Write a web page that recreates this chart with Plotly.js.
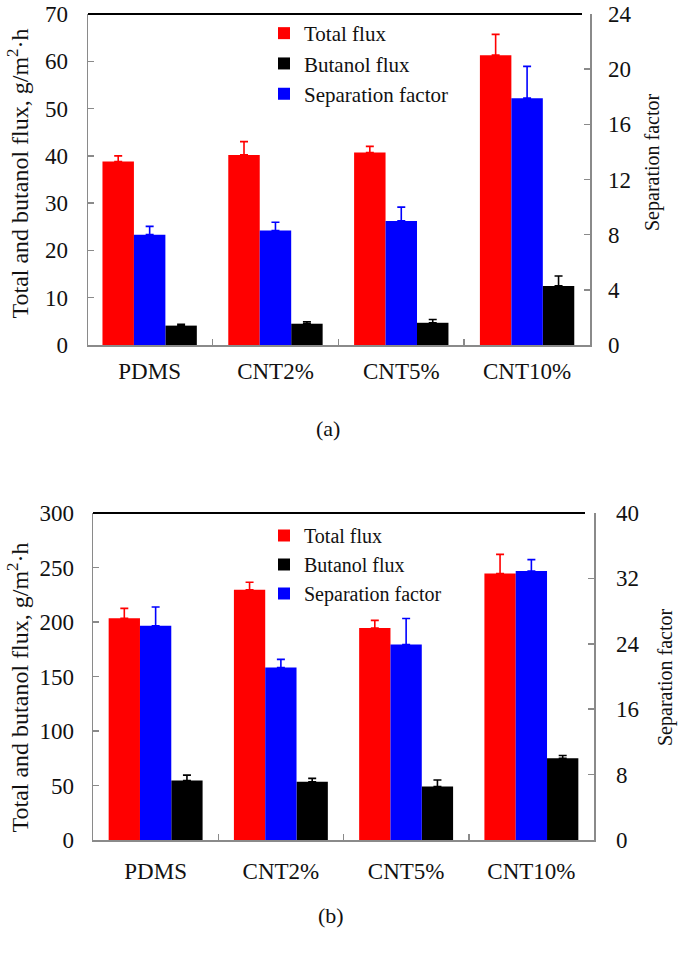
<!DOCTYPE html>
<html>
<head>
<meta charset="utf-8">
<script src="https://cdn.plot.ly/plotly-3.0.1.min.js"></script>
<style>html,body{margin:0;padding:0;background:#fff;}#chart{width:685px;height:959px;}</style>
</head>
<body>
<div id="chart"></div>
<script>
// ---- data ----
const categories = ['PDMS', 'CNT2%', 'CNT5%', 'CNT10%'];

// panel (a)
const aTotalFlux = [38.8, 40.2, 40.7, 61.3];
const aTotalFluxErr = [1.2, 2.8, 1.3, 4.4];
const aButanolFlux = [4.1, 4.5, 4.7, 12.5];
const aButanolFluxErr = [0.3, 0.4, 0.7, 2.1];
const aSepFactor = [8.0, 8.3, 9.0, 17.9];
const aSepFactorErr = [0.6, 0.6, 1.0, 2.3];

// panel (b)
const bTotalFlux = [203.5, 229.5, 194.5, 244.5];
const bTotalFluxErr = [9, 7, 7, 17.5];
const bButanolFlux = [54.5, 53.5, 49, 75];
const bButanolFluxErr = [5, 3, 6, 2.5];
const bSepFactor = [26.2, 21.1, 23.9, 32.9];
const bSepFactorErr = [2.3, 1.0, 3.2, 1.4];

const aLeftTicks = [0, 10, 20, 30, 40, 50, 60, 70];
const aRightTicks = [0, 4, 8, 12, 16, 20, 24];
const bLeftTicks = [0, 50, 100, 150, 200, 250, 300];
const bRightTicks = [0, 8, 16, 24, 32, 40];

// ---- styling ----
const W = 685, H = 959;
const FONT = '"Liberation Serif", "Times New Roman", serif';
const RED = '#ff0000', BLUE = '#0000ff', BLACK = '#000000';
const AXIS_GRAY = '#8a8a8a';
const BW = 0.25;

function px(x) { return x / W; }
function py(y) { return 1 - y / H; }

function bar(name, x, y, err, color, xa, ya, offset, legend) {
  return {
    type: 'bar', name: name, x: x, y: y,
    xaxis: xa, yaxis: ya,
    width: BW, offset: offset,
    marker: { color: color, line: { width: 0 } },
    error_y: { type: 'data', array: err, arrayminus: err.map(() => 0), symmetric: false,
               color: color, thickness: 1.6, width: 4 },
    legend: legend, showlegend: true
  };
}

const traces = [
  bar('Total flux', categories, aTotalFlux, aTotalFluxErr, RED, 'x', 'y', -0.375, 'legend'),
  bar('Butanol flux', categories, aButanolFlux, aButanolFluxErr, BLACK, 'x', 'y', 0.125, 'legend'),
  bar('Separation factor', categories, aSepFactor, aSepFactorErr, BLUE, 'x', 'y2', -0.125, 'legend'),
  bar('Total flux', categories, bTotalFlux, bTotalFluxErr, RED, 'x2', 'y3', -0.375, 'legend2'),
  bar('Butanol flux', categories, bButanolFlux, bButanolFluxErr, BLACK, 'x2', 'y3', 0.125, 'legend2'),
  bar('Separation factor', categories, bSepFactor, bSepFactorErr, BLUE, 'x2', 'y4', -0.125, 'legend2')
];

const tickFont = { family: FONT, size: 23, color: '#111' };

function xaxisCfg(domain, range, anchor, standoff) {
  return {
    type: 'category', domain: domain, range: range, anchor: anchor,
    showline: true, linecolor: AXIS_GRAY, linewidth: 1.5,
    showgrid: false, zeroline: false,
    ticks: 'inside', tickson: 'boundaries', ticklen: 6, tickcolor: AXIS_GRAY, tickwidth: 1.5,
    tickfont: tickFont, ticklabelstandoff: standoff,
    fixedrange: true
  };
}
function yaxisCfg(domain, range, ticks, side, anchor, overlaying, standoff) {
  const c = {
    domain: domain, range: range, anchor: anchor, side: side,
    tickmode: 'array', tickvals: ticks, ticktext: ticks.map(String),
    showline: true, linecolor: AXIS_GRAY, linewidth: 1.5,
    showgrid: false, zeroline: false,
    ticks: 'inside', ticklen: 6, tickcolor: AXIS_GRAY, tickwidth: 1.5,
    tickfont: tickFont, ticklabelstandoff: standoff,
    fixedrange: true
  };
  if (overlaying) c.overlaying = overlaying;
  return c;
}

const aX = [px(88), px(590)], aY = [py(345), py(14)];
const bX = [px(93), px(594)], bY = [py(840), py(513)];

const layout = {
  width: W, height: H,
  margin: { l: 0, r: 0, t: 0, b: 0 },
  paper_bgcolor: '#ffffff', plot_bgcolor: 'rgba(0,0,0,0)',
  font: { family: FONT, color: '#111' },
  barmode: 'overlay',
  showlegend: true,
  xaxis: xaxisCfg(aX, [-0.49, 3.5], 'y', 5),
  yaxis: yaxisCfg(aY, [0, 70], aLeftTicks, 'left', 'x', null, 14),
  yaxis2: yaxisCfg(aY, [0, 24], aRightTicks, 'right', 'x', 'y', 12),
  xaxis2: xaxisCfg(bX, [-0.5, 3.5], 'y3', 10),
  yaxis3: yaxisCfg(bY, [0, 300], bLeftTicks, 'left', 'x2', null, 13),
  yaxis4: yaxisCfg(bY, [0, 40], bRightTicks, 'right', 'x2', 'y3', 16),
  legend: {
    x: px(264), y: py(13), xanchor: 'left', yanchor: 'top',
    bgcolor: 'rgba(0,0,0,0)', borderwidth: 0,
    font: { family: FONT, size: 21, color: '#111' },
    traceorder: 'normal', itemclick: false, itemdoubleclick: false
  },
  legend2: {
    x: px(264), y: py(516), xanchor: 'left', yanchor: 'top',
    bgcolor: 'rgba(0,0,0,0)', borderwidth: 0,
    font: { family: FONT, size: 20, color: '#111' },
    traceorder: 'normal', itemclick: false, itemdoubleclick: false
  },
  shapes: [
    { type: 'line', xref: 'paper', yref: 'paper', x0: px(88), x1: px(582), y0: py(14), y1: py(14),
      line: { color: '#000', width: 2 } },
    { type: 'line', xref: 'paper', yref: 'paper', x0: px(93), x1: px(585), y0: py(513), y1: py(513),
      line: { color: '#000', width: 2 } }
  ],
  annotations: [
    { text: 'Total and butanol flux, g/m<sup>2</sup>·h', xref: 'paper', yref: 'paper',
      x: px(17.5), y: py(174), textangle: -90, showarrow: false,
      xanchor: 'center', yanchor: 'middle', font: { family: FONT, size: 24, color: '#111' } },
    { text: 'Separation factor', xref: 'paper', yref: 'paper',
      x: px(652), y: py(163), textangle: -90, showarrow: false,
      xanchor: 'center', yanchor: 'middle', font: { family: FONT, size: 20, color: '#111' } },
    { text: 'Total and butanol flux, g/m<sup>2</sup>·h', xref: 'paper', yref: 'paper',
      x: px(17.5), y: py(688), textangle: -90, showarrow: false,
      xanchor: 'center', yanchor: 'middle', font: { family: FONT, size: 24, color: '#111' } },
    { text: 'Separation factor', xref: 'paper', yref: 'paper',
      x: px(665), y: py(678), textangle: -90, showarrow: false,
      xanchor: 'center', yanchor: 'middle', font: { family: FONT, size: 20, color: '#111' } },
    { text: '(a)', xref: 'paper', yref: 'paper', x: px(328), y: py(428), showarrow: false,
      xanchor: 'center', yanchor: 'middle', font: { family: FONT, size: 22, color: '#111' } },
    { text: '(b)', xref: 'paper', yref: 'paper', x: px(331), y: py(915), showarrow: false,
      xanchor: 'center', yanchor: 'middle', font: { family: FONT, size: 22, color: '#111' } }
  ]
};

Plotly.newPlot('chart', traces, layout, { staticPlot: true, displayModeBar: false });
</script>
</body>
</html>
